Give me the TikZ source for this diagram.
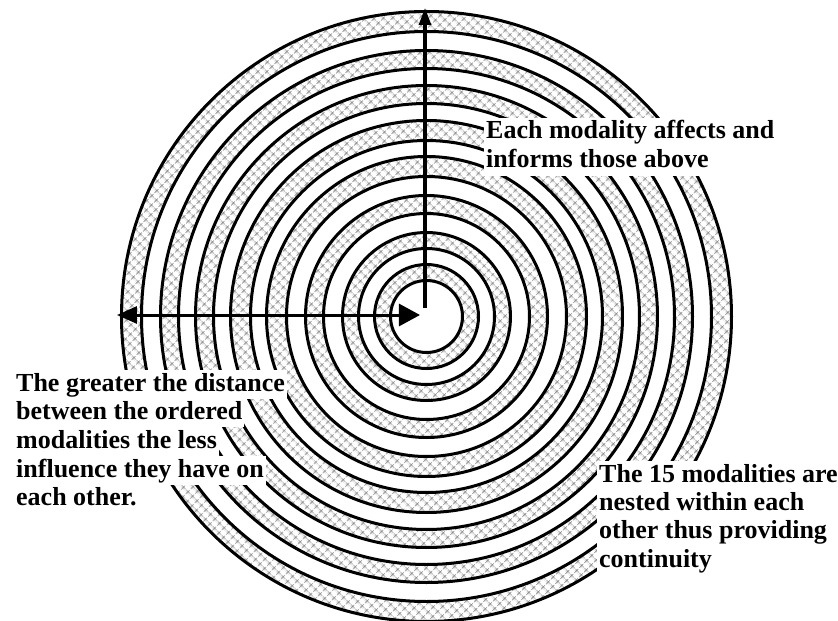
\documentclass[tikz,border=0pt]{standalone}
\usepackage{fontspec}
\setmainfont{Liberation Serif}
\usepackage{tikz}
\usetikzlibrary{arrows.meta,patterns.meta,positioning}
\definecolor{ink}{HTML}{000000}
\definecolor{hatchgrey}{HTML}{6E6E6E}

\begin{document}
\begin{tikzpicture}[x=1pt,y=1pt,
    band/.style={pattern={Hatch[angle=45,distance=6.4pt,line width=0.8pt]},pattern color=hatchgrey,even odd rule},
    rim/.style={draw=ink,line width=3pt},
    axis/.style={draw=ink,line width=3pt},
    label/.style={fill=white,font=\bfseries\fontsize{26}{28.5}\selectfont,text height=19pt,text depth=6pt,inner xsep=2pt,inner ysep=1.75pt,anchor=base west}]
      \useasboundingbox (-426.5,-304.5) rectangle (411.5,316.5);
      % hatched rings
      \foreach \a/\b in {36/52,68/84,103/121,140/160,176/196,213/231,248/266,285/305}
        \fill[band] (0,0) circle (\b) circle (\a);
      \foreach \r in {36,52,68,84,103,121,140,160,176,196,213,231,248,266,285,305}
        \draw[rim] (0,0) circle (\r);
      % arrows
      \coordinate (hub) at (-1.5,8.5);
      \coordinate (top) at (-1.5,308.5);
      \coordinate (west) at (-309.5,1.5);
      \coordinate (east) at (-6.5,1.5);
      \draw[axis,-{Triangle[length=17pt,width=12pt]}] (hub) -- (top);
      \draw[axis,{Triangle[length=20pt,width=17pt]}-{Triangle[length=21pt,width=22pt]}] (west) -- (east);
      % labels
      \node[label] (up1) at (57.5,177.5) {Each modality affects and};
      \node[label] (up2) at (57.5,148.5) {informs those above};
      \node[label] (far1) at (-412.5,-74.5) {The greater the distance};
      \node[label] (far2) at (-412.5,-102.5) {between the ordered};
      \node[label] (far3) at (-412.5,-131.5) {modalities the less};
      \node[label] (far4) at (-412.5,-160.5) {influence they have on};
      \node[label] (far5) at (-412.5,-188.5) {each other.};
      \node[label] (nest1) at (170.5,-165.5) {The 15 modalities are};
      \node[label] (nest2) at (170.5,-193.5) {nested within each};
      \node[label] (nest3) at (170.5,-221.5) {other thus providing};
      \node[label] (nest4) at (170.5,-250.5) {continuity};
    \end{tikzpicture}
\end{document}
